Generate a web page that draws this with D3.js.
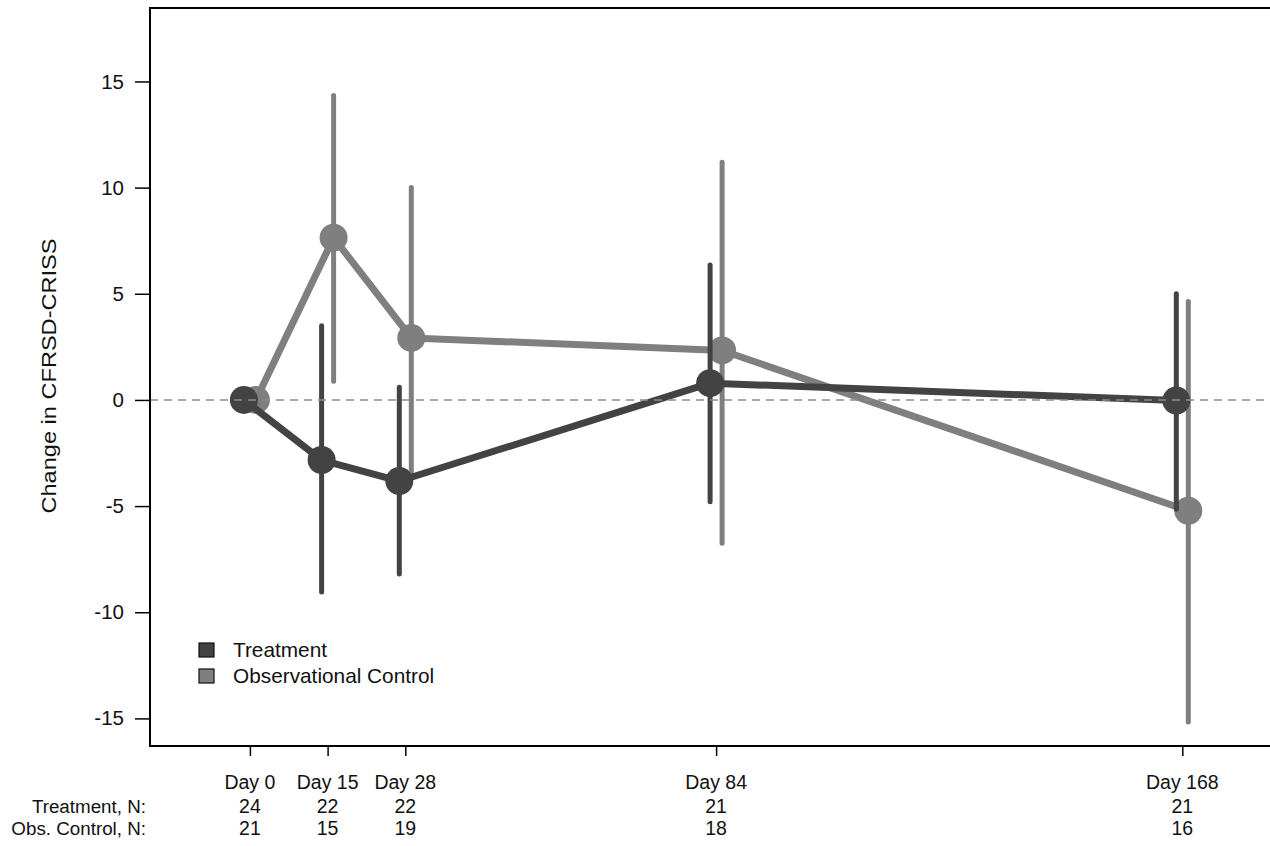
<!DOCTYPE html>
<html>
  <head>
    <meta charset="UTF-8">
    <style>
      body {
        margin: 0;
        background: white;
        font-family: "Liberation Sans", Arial, sans-serif;
      }

      .axis text {
        font-size: 20.5px;
        fill: #111;
      }

      .axis .domain {
        display: none;
      }

      .axis .tick line {
        stroke: #000;
        stroke-width: 1.5;
      }

      .frame {
        fill: none;
        stroke: #000;
        stroke-width: 2;
      }
    </style>
    <script src="https://d3js.org/d3.v7.min.js"></script>
  </head>

  <body>
    <svg id="chart"></svg>

    <script type="text/javascript">
      // visit days (x position in days) and their labels
      let visitDays = [0, 14, 28, 84, 168]
      let visitLabels = ['Day 0', 'Day 15', 'Day 28', 'Day 84', 'Day 168']

      // group names
      let groups = ['Treatment', 'Observational Control']

      // mean change and 95% CI per visit
      let treatmentMean = [0, -2.83, -3.82, 0.79, -0.03]
      let treatmentLow = [0, -9.05, -8.2, -4.8, -5.15]
      let treatmentHigh = [0, 3.49, 0.6, 6.36, 5.0]

      let controlMean = [0, 7.64, 2.92, 2.33, -5.22]
      let controlLow = [0, 0.88, -3.4, -6.75, -15.17]
      let controlHigh = [0, 14.34, 10.0, 11.2, 4.64]

      // number at risk
      let treatmentN = [24, 22, 22, 21, 21]
      let controlN = [21, 15, 19, 18, 16]
      let nRowLabels = ['Treatment, N:', 'Obs. Control, N:']

      let yTicks = [-15, -10, -5, 0, 5, 10, 15]

      function getChartConfig() {
        let width = 1270
        let height = 846
        let margin = { top: 8, bottom: 100, left: 150, right: 0 }
        let bodyWidth = width - margin.left - margin.right
        let bodyHeight = height - margin.top - margin.bottom

        let svg = d3.select('#chart')
          .attr('width', width)
          .attr('height', height)

        return { width, height, margin, bodyWidth, bodyHeight, svg }
      }

      function getChartScales(config) {
        let x = d3.scaleLinear()
          .domain([-18, 183.8])
          .range([config.margin.left, config.margin.left + config.bodyWidth])

        let y = d3.scaleLinear()
          .domain([-16.3, 18.46])
          .range([config.margin.top + config.bodyHeight, config.margin.top])

        return { x, y }
      }

      function buildSeries() {
        return [
          { name: groups[1], color: '#7f7f7f', dodge: 6,
            points: visitDays.map((d, i) => ({ day: d, mean: controlMean[i], low: controlLow[i], high: controlHigh[i] })) },
          { name: groups[0], color: '#434343', dodge: -6,
            points: visitDays.map((d, i) => ({ day: d, mean: treatmentMean[i], low: treatmentLow[i], high: treatmentHigh[i] })) },
        ]
      }

      function drawAxes(scales, config) {
        let svg = config.svg

        svg.append('g')
          .attr('class', 'axis y-axis')
          .attr('transform', `translate(${config.margin.left}, 0)`)
          .call(d3.axisLeft(scales.y)
            .tickValues(yTicks)
            .tickSize(15)
            .tickPadding(11)
            .tickFormat(d => String(d)))

        svg.append('g')
          .attr('class', 'axis x-axis')
          .attr('transform', `translate(0, ${config.margin.top + config.bodyHeight})`)
          .call(d3.axisBottom(scales.x)
            .tickValues(visitDays)
            .tickSize(10)
            .tickFormat(''))

        // frame: left, top, bottom
        let x0 = config.margin.left
        let x1 = config.width
        let y0 = config.margin.top
        let y1 = config.margin.top + config.bodyHeight
        svg.append('path')
          .attr('class', 'frame')
          .attr('d', `M${x1},${y0}H${x0}V${y1}H${x1}`)

        svg.append('text')
          .attr('transform', `translate(56, ${(y0 + y1) / 2 - 1}) rotate(-90)`)
          .attr('text-anchor', 'middle')
          .attr('textLength', 275)
          .attr('lengthAdjust', 'spacingAndGlyphs')
          .style('font-size', '20px')
          .style('fill', '#111')
          .text('Change in CFRSD-CRISS')

        // labels under the axis
        let rows = [visitLabels, treatmentN, controlN]
        let rowY = [789, 813, 835]
        rows.forEach((row, r) => {
          svg.append('g')
            .selectAll('text')
            .data(row)
            .join('text')
            .attr('x', (d, i) => scales.x(visitDays[i]))
            .attr('y', rowY[r])
            .attr('text-anchor', 'middle')
            .style('font-size', '19.5px')
            .style('fill', '#111')
            .text(d => d)
        })

        svg.append('g')
          .selectAll('text')
          .data(nRowLabels)
          .join('text')
          .attr('x', 146)
          .attr('y', (d, i) => rowY[i + 1])
          .attr('text-anchor', 'end')
          .style('font-size', '18.8px')
          .style('fill', '#111')
          .text(d => d)
      }

      function drawSeries(series, scales, config) {
        let svg = config.svg

        series.forEach(s => {
          let g = svg.append('g').attr('class', 'series')
          let px = d => scales.x(d.day) + s.dodge

          g.append('path')
            .datum(s.points)
            .attr('fill', 'none')
            .attr('stroke', s.color)
            .attr('stroke-width', 7)
            .attr('stroke-linejoin', 'round')
            .attr('d', d3.line()
              .x(px)
              .y(d => scales.y(d.mean)))

          g.selectAll('.ci')
            .data(s.points.filter(d => d.high !== d.low))
            .join('line')
            .attr('class', 'ci')
            .attr('x1', px)
            .attr('x2', px)
            .attr('y1', d => scales.y(d.low))
            .attr('y2', d => scales.y(d.high))
            .attr('stroke', s.color)
            .attr('stroke-width', 5)
            .attr('stroke-linecap', 'round')

          g.selectAll('circle')
            .data(s.points)
            .join('circle')
            .attr('cx', px)
            .attr('cy', d => scales.y(d.mean))
            .attr('r', 14)
            .attr('fill', s.color)
        })

        // zero reference line
        svg.append('line')
          .attr('x1', config.margin.left)
          .attr('x2', config.width)
          .attr('y1', scales.y(0))
          .attr('y2', scales.y(0))
          .attr('stroke', '#8c8c8c')
          .attr('stroke-width', 1.6)
          .attr('stroke-dasharray', '8 6')
      }

      function drawLegend(series, config) {
        let items = [
          { name: groups[0], color: '#434343' },
          { name: groups[1], color: '#7f7f7f' },
        ]
        let legend = config.svg.append('g')
          .attr('class', 'legend')
          .attr('transform', 'translate(199, 643)')

        let item = legend.selectAll('g')
          .data(items)
          .join('g')
          .attr('transform', (d, i) => `translate(0, ${i * 26})`)

        item.append('rect')
          .attr('width', 15)
          .attr('height', 14)
          .attr('fill', d => d.color)
          .attr('stroke', '#111')
          .attr('stroke-width', 1.2)

        item.append('text')
          .attr('x', 34)
          .attr('y', 14)
          .style('font-size', '20.8px')
          .style('fill', '#111')
          .text(d => d.name)
      }

      function showChart() {
        let config = getChartConfig()
        let scales = getChartScales(config)
        let series = buildSeries()

        drawSeries(series, scales, config)
        drawAxes(scales, config)
        drawLegend(series, config)
      }

      showChart()
    </script>
  </body>
</html>
